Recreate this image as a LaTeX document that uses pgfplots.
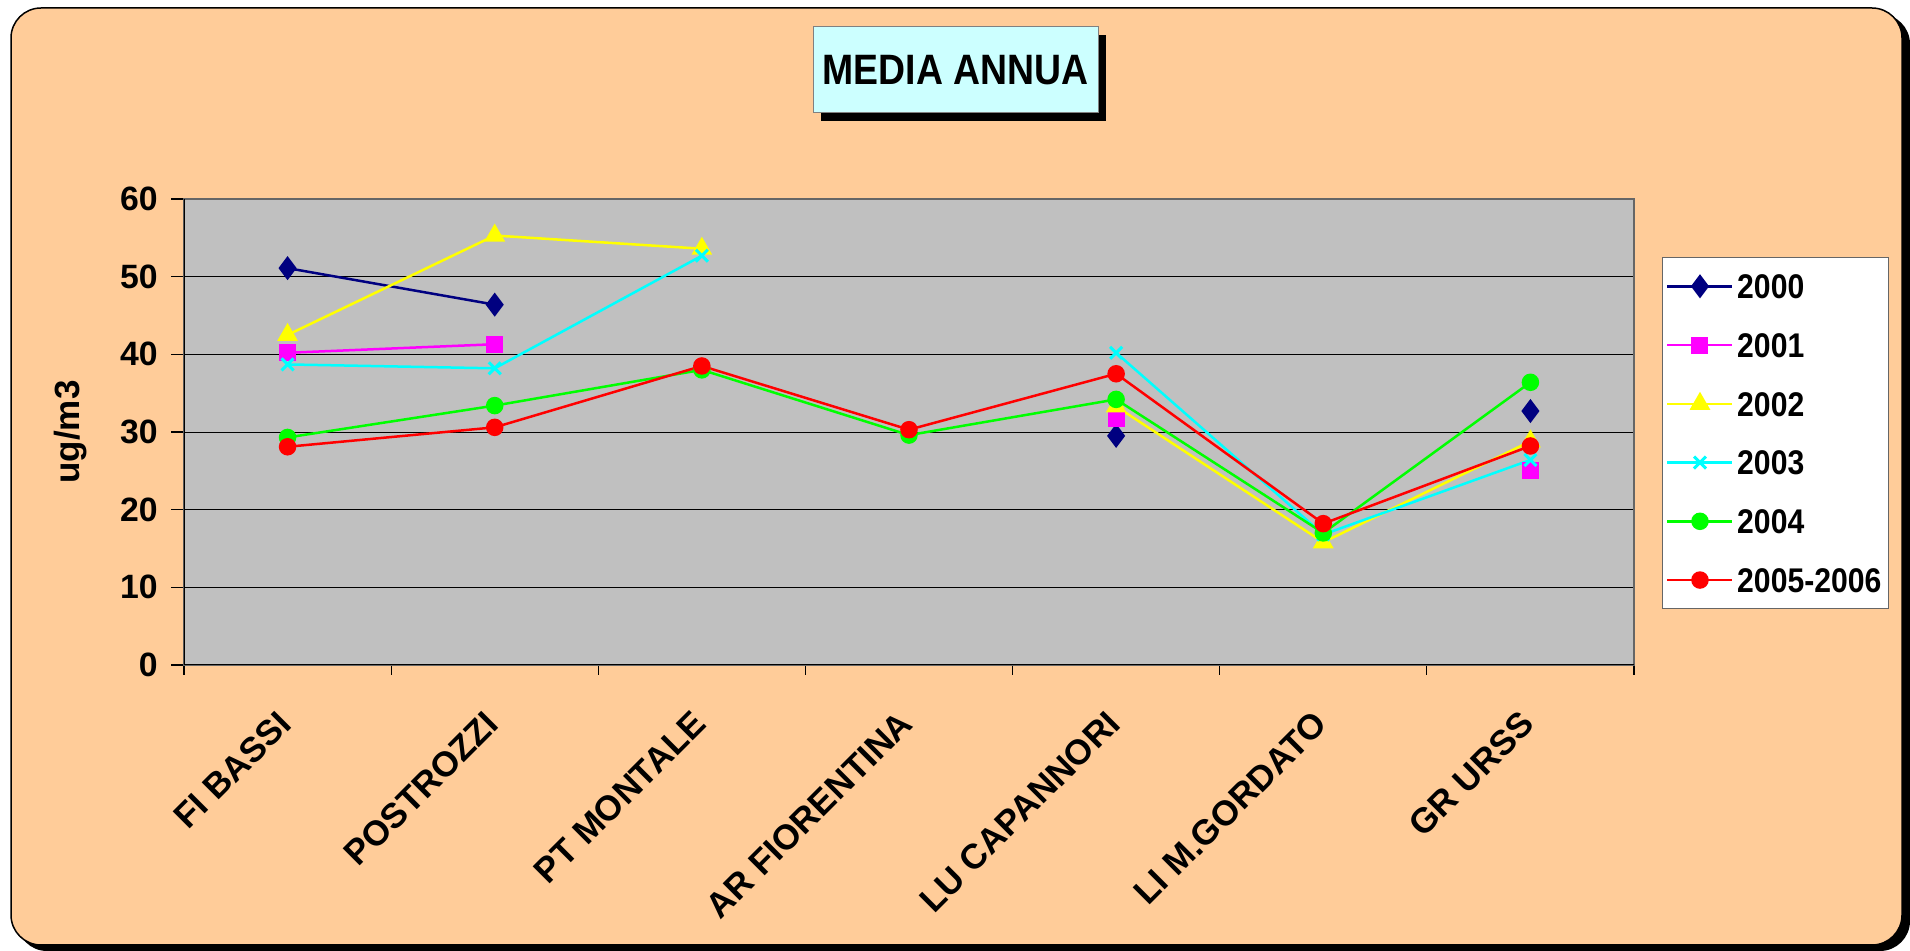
\documentclass[border=0pt]{standalone}
\usepackage{fontspec}
\setmainfont{Liberation Sans}
\newfontfamily\narrowfont{Liberation Sans}[FakeStretch=0.88]
\usepackage{pgfplots}
\pgfplotsset{compat=1.18}
\usepackage{pgfplotstable}

\definecolor{peach}{HTML}{FFCC99}
\definecolor{plotgray}{HTML}{C0C0C0}
\definecolor{titlecyan}{HTML}{CCFFFF}
\definecolor{c2000}{HTML}{000080}
\definecolor{c2001}{HTML}{FF00FF}
\definecolor{c2002}{HTML}{FFFF00}
\definecolor{c2003}{HTML}{00FFFF}
\definecolor{c2004}{HTML}{00FF00}
\definecolor{c2005}{HTML}{FF0000}

\pgfplotstableread{
cat y2000 y2001 y2002 y2003 y2004 y2005
0 51.1 40.2 42.5 38.7 29.3 28.1
1 46.4 41.3 55.3 38.2 33.4 30.6
2 nan nan 53.6 52.7 38.0 38.5
3 nan nan nan nan 29.6 30.3
4 29.5 31.8 33.3 40.2 34.2 37.5
5 nan nan 15.8 16.8 17.0 18.2
6 32.7 25.0 28.8 26.4 36.4 28.2
}\datatable

\begin{document}
\begin{tikzpicture}[x=1pt,y=1pt]
\useasboundingbox (0,0) rectangle (764,380.4);
% outer frame with shadow
\fill[black, rounded corners=12pt] (6.8,0) rectangle (764,374.8);
\filldraw[fill=peach, draw=black, line width=0.6pt, rounded corners=12pt] (4.4,2.4) rectangle (760.8,377.2);
% title box with shadow
\fill[black] (328.4,332) rectangle (442.4,366.4);
\filldraw[fill=titlecyan, draw=gray, line width=0.4pt] (325.2,335.2) rectangle (439.2,369.6);
\node[font=\narrowfont\bfseries\fontsize{17}{20}\selectfont] at (382.2,352.4) {MEDIA ANNUA};

\begin{axis}[
  at={(73.6pt,114.4pt)}, anchor=south west,
  scale only axis, width=580pt, height=186.4pt,
  xmin=-0.5, xmax=6.5, ymin=0, ymax=60,
  ytick={0,10,...,60},
  xtick={0,...,6},
  xticklabels={FI BASSI,POSTROZZI,PT MONTALE,AR FIORENTINA,LU CAPANNORI,LI M.GORDATO,GR URSS},
  minor xtick={-0.5,0.5,...,6.5},
  major x tick style={draw=none},
  tick align=outside, tick pos=left,
  major tick length=5pt, minor tick length=4pt,
  tick style={black, line width=0.5pt},
  ymajorgrids, grid style={black, line width=0.4pt},
  axis background/.style={fill=plotgray},
  axis line style={draw=gray!80!black, line width=0.6pt},
  /pgf/number format/assume math mode=true,
  ticklabel style={font=\bfseries\fontsize{13.5}{16}\selectfont},
  yticklabel style={xshift=-2pt},
  xticklabel style={rotate=45, anchor=east, xshift=2pt, font=\bfseries\fontsize{14}{16}\selectfont},
  xticklabel shift=15pt,
  ylabel={ug/m3},
  ylabel style={font=\bfseries\fontsize{14}{16}\selectfont, at={(axis description cs:-0.0786,0.5)}, anchor=center},
  unbounded coords=jump,
  legend cell align=left,
  legend image code/.code={\draw[mark repeat=2,mark phase=2] plot coordinates {(0pt,0pt) (13pt,0pt) (26pt,0pt)};},
  legend style={at={(1.0193,0.8755)}, anchor=north west, draw=gray!80!black, fill=white, line width=0.4pt,
    font=\narrowfont\bfseries\fontsize{13.7}{16}\selectfont,
    inner xsep=1.5pt, inner ysep=6.6pt, row sep=13.7pt,
    nodes={inner xsep=1.4pt, inner ysep=0pt, text height=9.8pt, text depth=0pt}},
  every axis plot/.append style={line width=1pt},
]
\addplot[color=c2000, mark=diamond*, mark size=4pt, mark options={solid}] table[x=cat,y=y2000]{\datatable};
\addlegendentry{2000}
\addplot[color=c2001, mark=square*, mark size=2.9pt, mark options={solid}] table[x=cat,y=y2001]{\datatable};
\addlegendentry{2001}
\addplot[color=c2002, mark=triangle*, mark size=3.8pt, mark options={solid}] table[x=cat,y=y2002]{\datatable};
\addlegendentry{2002}
\addplot[color=c2003, mark=x, mark size=3.4pt, mark options={solid, line width=1.2pt}] table[x=cat,y=y2003]{\datatable};
\addlegendentry{2003}
\addplot[color=c2004, mark=*, mark size=3pt, mark options={solid}] table[x=cat,y=y2004]{\datatable};
\addlegendentry{2004}
\addplot[color=c2005, mark=*, mark size=3pt, mark options={solid}] table[x=cat,y=y2005]{\datatable};
\addlegendentry{2005-2006}
\draw[black, line width=0.6pt] (rel axis cs:0,1) -- (rel axis cs:0,0) -- (rel axis cs:1,0);
\end{axis}
\end{tikzpicture}
\end{document}
